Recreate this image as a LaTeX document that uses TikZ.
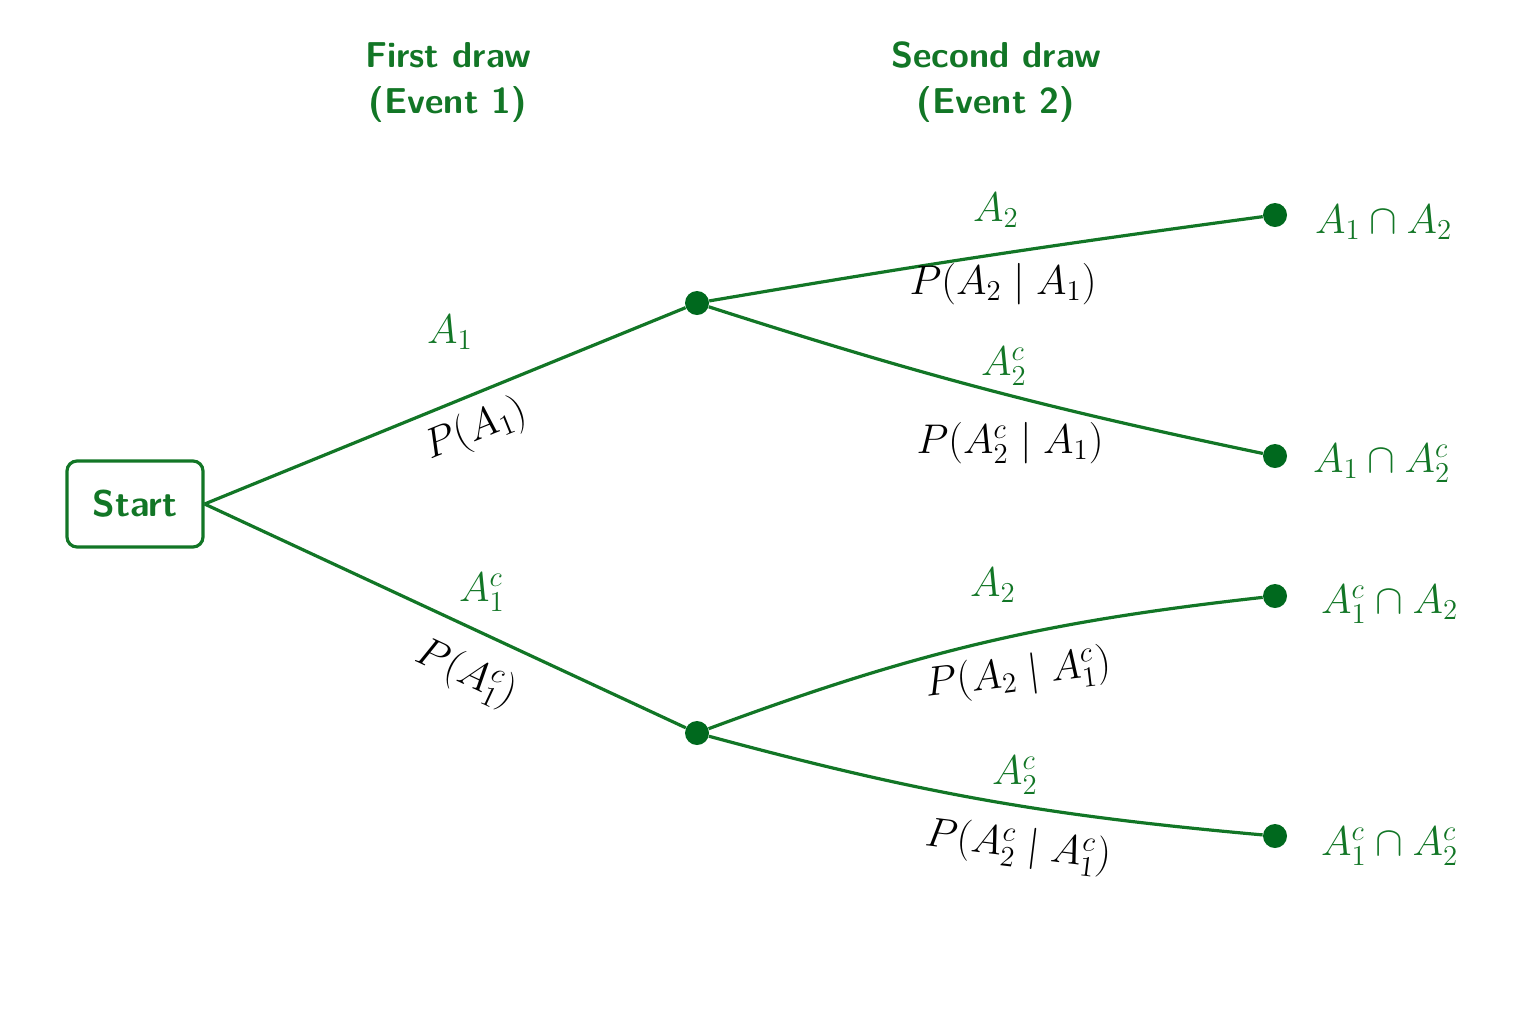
\documentclass[tikz,border=0pt]{standalone}
\usepackage{amsmath}
\definecolor{tg}{RGB}{18,118,38}
\definecolor{dg}{RGB}{0,105,30}
\begin{document}
\begin{tikzpicture}[x=0.5pt,y=-0.5pt,
  edge/.style={draw=tg,line width=1.6pt},
  dot/.style={circle,fill=dg,inner sep=0pt,minimum size=12pt},
  glab/.style={text=tg,font=\fontsize{20}{24}\selectfont},
  plab/.style={text=black,font=\fontsize{20}{24}\selectfont},
  head/.style={text=tg,font=\fontsize{18}{23}\selectfont\sffamily\bfseries,align=center}]
\useasboundingbox (0,0) rectangle (1536,1024);
\node[draw=tg,line width=1.6pt,rounded corners=5pt,minimum width=68pt,minimum height=43pt,text=tg,font=\fontsize{18.5}{22}\selectfont\sffamily\bfseries] (s) at (135,504) {Start};
\node[head] (h1) at (448,82) {First draw\\(Event 1)};
\node[head] (h2) at (996,82) {Second draw\\(Event 2)};
\node[dot] (m1) at (697,303) {};
\node[dot] (m2) at (697,733) {};
\node[dot] (l1) at (1275,215) {};
\node[dot] (l2) at (1275,456) {};
\node[dot] (l3) at (1275,596) {};
\node[dot] (l4) at (1275,836) {};
\draw[edge] (s.east) -- (m1);
\draw[edge] (s.east) -- (m2);
\draw[edge] (m1) to[bend left=1] (l1);
\draw[edge] (m1) to[bend right=3] (l2);
\draw[edge] (m2) to[bend left=7] (l3);
\draw[edge] (m2) to[bend right=5] (l4);
\node[glab] (a1) at (450,332) {$A_1$};
\node[plab,rotate=22] (pa1) at (476,430) {$P(A_1)$};
\node[glab] (a1c) at (482,592) {$A_1^c$};
\node[plab,rotate=-25] (pa1c) at (466,674) {$P(A_1^c)$};
\node[glab] (b1) at (996,210) {$A_2$};
\node[plab] (pb1) at (1003,284) {$P(A_2\mid A_1)$};
\node[glab] (b2) at (1004,366) {$A_2^c$};
\node[plab] (pb2) at (1010,443) {$P(A_2^c\mid A_1)$};
\node[glab] (b3) at (993,585) {$A_2$};
\node[plab,rotate=7] (pb3) at (1018,675) {$P(A_2\mid A_1^c)$};
\node[glab] (b4) at (1015,775) {$A_2^c$};
\node[plab,rotate=-7] (pb4) at (1018,847) {$P(A_2^c\mid A_1^c)$};
\node[glab,anchor=west] (r1) at (1308,222) {$A_1\cap A_2$};
\node[glab,anchor=west] (r2) at (1306,463) {$A_1\cap A_2^c$};
\node[glab,anchor=west] (r3) at (1314,604) {$A_1^c\cap A_2$};
\node[glab,anchor=west] (r4) at (1314,846) {$A_1^c\cap A_2^c$};
\end{tikzpicture}
\end{document}
